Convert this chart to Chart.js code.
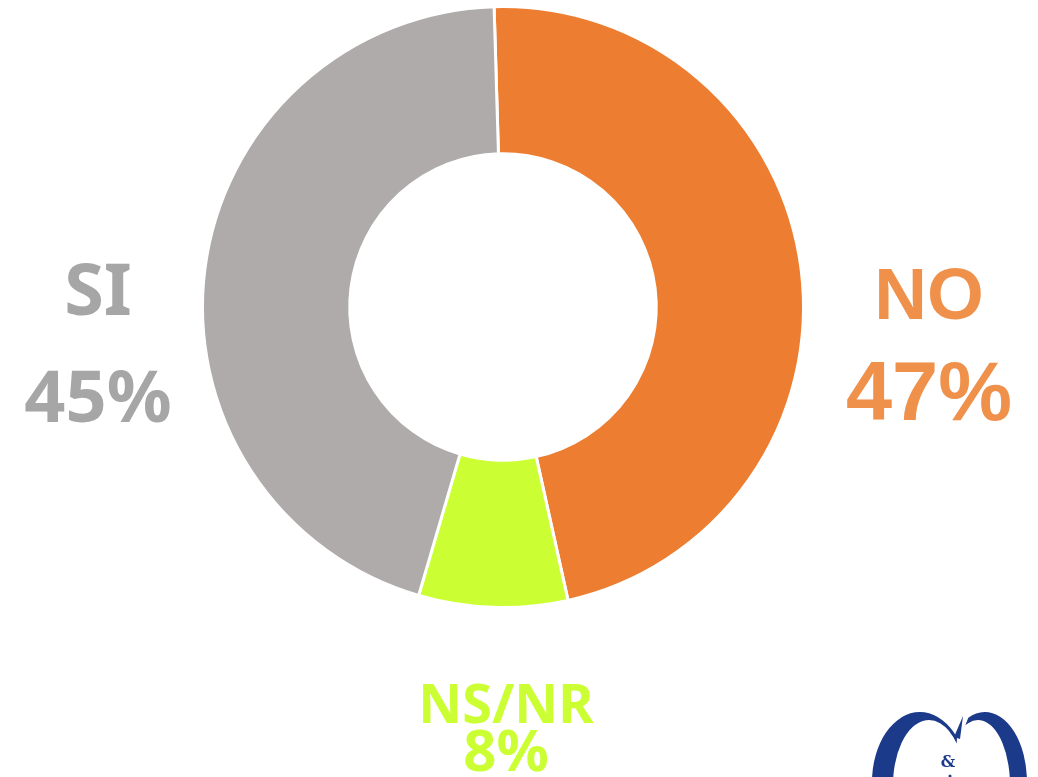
<!DOCTYPE html>
<html>
<head>
<meta charset="utf-8">
<script src="https://cdn.jsdelivr.net/npm/chart.js@4/dist/chart.umd.min.js"></script>
<style>
  body { margin: 0; background: #fff; }
  canvas { display: block; }
</style>
</head>
<body>
<canvas id="myChart" width="1038" height="777"></canvas>
<script>
// chart data
const categories = ["NO", "NS/NR", "SI"];
const shares = [47, 8, 45];
const sliceColors = ["#ED7D31", "#CCFF33", "#AEABAA"];
const labelColors = ["#F0914B", "#CCFF33", "#A6A6A6"];

// outside label placement: [x, name baseline, value baseline, name size, value size, family]
const labelSpots = [
    [929, 319, 420, 73, 83, "'Liberation Sans', Arial, sans-serif"],
    [506, 723, 771, 54, 58, "'Noto Sans', 'Open Sans', sans-serif"],
    [98, 315, 422, 72, 72, "'Noto Sans', 'Open Sans', sans-serif"]
];

const outsideLabels = {
    id: "outsideLabels",
    afterDraw(chart) {
        const ctx = chart.ctx;
        ctx.save();
        ctx.textAlign = "center";
        ctx.textBaseline = "alphabetic";
        categories.forEach((name, i) => {
            const [x, y1, y2, s1, s2, fam] = labelSpots[i];
            ctx.fillStyle = labelColors[i];
            ctx.font = "bold " + s1 + "px " + fam;
            ctx.fillText(name, x, y1);
            ctx.font = "bold " + s2 + "px " + fam;
            ctx.fillText(shares[i] + "%", x, y2);
        });
        ctx.restore();
    }
};

// corner logo, two crescents and an ampersand
function crescent(ctx, o, inn, a1, a2, ccw) {
    ctx.beginPath();
    ctx.ellipse(o[0], o[1], o[2], o[3], 0, a1, a2, ccw);
    ctx.ellipse(inn[0], inn[1], inn[2], inn[3], 0, a2, a1, !ccw);
    ctx.closePath();
    ctx.fill();
}

const logo = {
    id: "logo",
    afterDraw(chart) {
        const ctx = chart.ctx;
        ctx.save();
        ctx.fillStyle = "#1C3A8A";
        crescent(ctx, [920, 782, 48, 70], [929, 785, 36, 65], -0.22 * Math.PI, 0.6 * Math.PI, true);
        crescent(ctx, [985, 782, 42, 70], [978, 785, 32, 65], -0.63 * Math.PI, 0.4 * Math.PI, false);
        // serif on the first crescent
        ctx.beginPath();
        ctx.moveTo(963, 716);
        ctx.lineTo(960, 739);
        ctx.lineTo(954, 737);
        ctx.closePath();
        ctx.fill();
        ctx.font = "bold 16px 'DejaVu Serif', serif";
        ctx.textAlign = "center";
        ctx.fillText("&", 948, 767);
        ctx.beginPath();
        ctx.arc(950, 776, 1.5, 0, 2 * Math.PI);
        ctx.fill();
        ctx.restore();
    }
};

new Chart(document.getElementById("myChart"), {
    type: "doughnut",
    data: {
        labels: categories,
        datasets: [{
            data: shares,
            backgroundColor: sliceColors,
            borderColor: "#ffffff",
            borderWidth: 3
        }]
    },
    options: {
        responsive: false,
        animation: false,
        cutout: "51%",
        rotation: -1.7,
        layout: {padding: {left: 201, right: 233, top: 5, bottom: 168}},
        plugins: {
            legend: {display: false},
            tooltip: {enabled: false}
        }
    },
    plugins: [outsideLabels, logo]
});
</script>
</body>
</html>
